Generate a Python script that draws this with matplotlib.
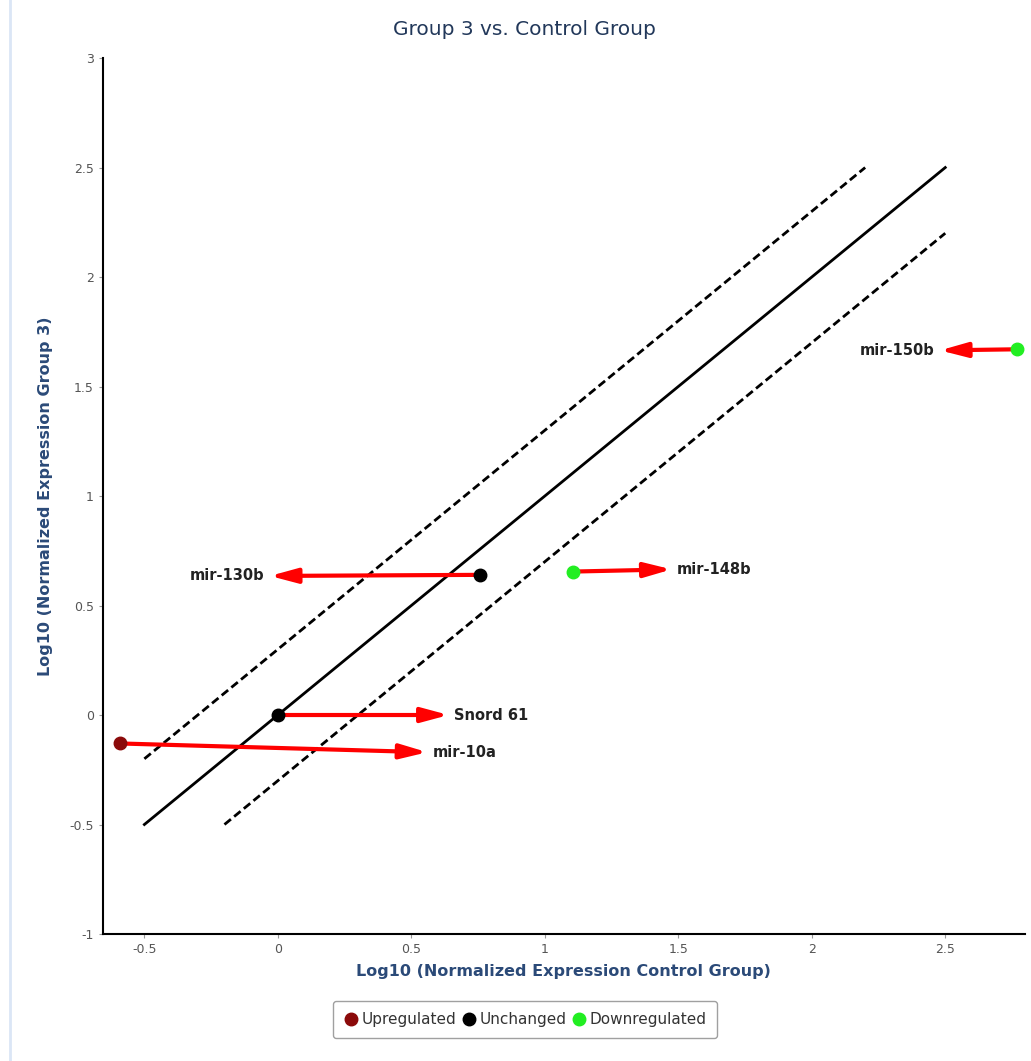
import matplotlib.pyplot as plt
from matplotlib.lines import Line2D

# points
genes = ['mir-10a', 'Snord 61', 'mir-130b', 'mir-148b', 'mir-150b']
ctrl = [-0.59, 0.0, 0.757, 1.105, 2.768]
grp3 = [-0.13, 0.0, 0.64, 0.655, 1.67]
status = ['Upregulated', 'Unchanged', 'Unchanged', 'Downregulated', 'Downregulated']
# where each red arrow ends
tip_x = [0.56, 0.64, -0.03, 1.475, 2.48]
tip_y = [-0.17, 0.0, 0.635, 0.665, 1.665]

groups = ['Upregulated', 'Unchanged', 'Downregulated']
colors = {'Upregulated': '#8b0a0a', 'Unchanged': 'black', 'Downregulated': '#22ee22'}

diag_x = [-0.5, 2.5]
upper_x = [-0.5, 2.2]
lower_x = [-0.2, 2.5]
offset = 0.3

fig = plt.figure(figsize=(10.31, 10.61), dpi=100)
ax = fig.add_axes([0.0999, 0.1197, 0.8941, 0.8256])

ax.plot(diag_x, diag_x, color='black', lw=2)
ax.plot(upper_x, [v + offset for v in upper_x], '--', color='black', lw=2, dashes=(3, 1.5))
ax.plot(lower_x, [v - offset for v in lower_x], '--', color='black', lw=2, dashes=(3, 1.5))

for i in range(len(genes)):
    ax.annotate('', xy=(tip_x[i], tip_y[i]), xytext=(ctrl[i], grp3[i]),
                arrowprops=dict(arrowstyle='-|>,head_length=1.3,head_width=0.35',
                                color='red', lw=3, mutation_scale=12.5,
                                shrinkA=0, shrinkB=0))
    if tip_x[i] > ctrl[i]:
        ax.text(tip_x[i] + 0.02, tip_y[i], genes[i], ha='left', va='center',
                fontsize=10.5, fontweight='bold', color='#222222')
    else:
        ax.text(tip_x[i] - 0.02, tip_y[i], genes[i], ha='right', va='center',
                fontsize=10.5, fontweight='bold', color='#222222')

for g in groups:
    xs = [ctrl[i] for i in range(len(genes)) if status[i] == g]
    ys = [grp3[i] for i in range(len(genes)) if status[i] == g]
    ax.plot(xs, ys, 'o', color=colors[g], markersize=9, zorder=5)

ax.set_xlim(-0.655, 2.798)
ax.set_ylim(-1, 3)
ax.set_xticks([-0.5, 0, 0.5, 1, 1.5, 2, 2.5])
ax.set_xticklabels(['-0.5', '0', '0.5', '1', '1.5', '2', '2.5'])
ax.set_yticks([-1, -0.5, 0, 0.5, 1, 1.5, 2, 2.5, 3])
ax.set_yticklabels(['-1', '-0.5', '0', '0.5', '1', '1.5', '2', '2.5', '3'])
ax.tick_params(labelsize=9, labelcolor='#555555', color='#999999', length=3)
ax.spines['top'].set_visible(False)
ax.spines['right'].set_visible(False)
ax.spines['left'].set_linewidth(1.5)
ax.spines['bottom'].set_linewidth(1.5)

ax.set_xlabel('Log10 (Normalized Expression Control Group)', fontsize=11.5,
              fontweight='bold', color='#2b4a78', labelpad=6)
ax.set_ylabel('Log10 (Normalized Expression Group 3)', fontsize=11.5,
              fontweight='bold', color='#2b4a78', labelpad=12)
fig.text(0.509, 0.972, 'Group 3 vs. Control Group', ha='center', va='center',
         fontsize=14.5, color='#22385a')

handles = [Line2D([], [], marker='o', ls='', color=colors[g], markersize=9) for g in groups]
leg = fig.legend(handles, groups, loc='center', bbox_to_anchor=(0.509, 0.039), ncol=3,
                 fontsize=11, frameon=True, handletextpad=0.2, columnspacing=0.3,
                 handlelength=1.0, borderpad=0.7, fancybox=True)
leg.get_frame().set_edgecolor('#888888')
for t in leg.get_texts():
    t.set_color('#333333')

fig.add_artist(Line2D([10 / 1031, 10 / 1031], [0, 1], color='#dbe6f6', lw=2))

plt.savefig('out.png', dpi=100)
